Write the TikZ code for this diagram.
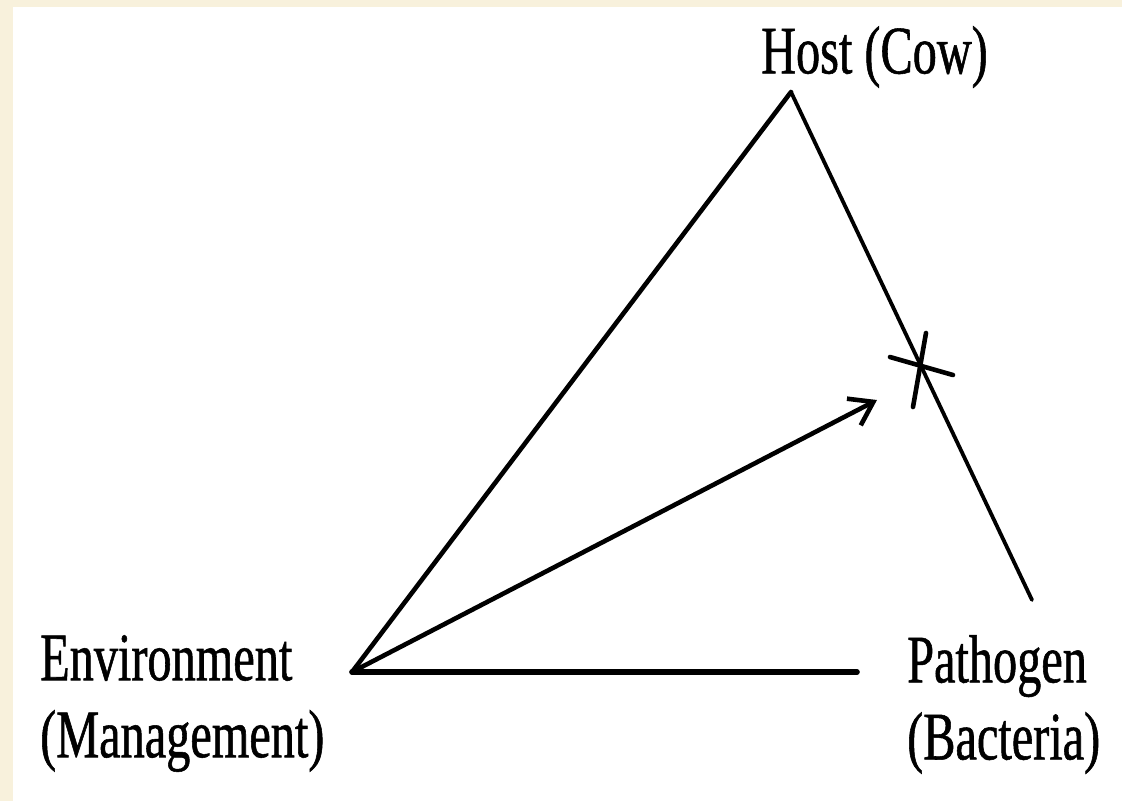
\documentclass[tikz,border=0pt]{standalone}
\usepackage{fontspec}
\setmainfont{Liberation Serif}[FakeStretch=0.71,FakeBold=0.8]
\usetikzlibrary{arrows.meta}
\definecolor{cream}{HTML}{F8F1DC}

\begin{document}
\begin{tikzpicture}[x=1pt,y=-1pt,
        vertexname/.style={anchor=north west,inner sep=0pt,align=left,
            font=\fontsize{68}{77}\selectfont},
        side/.style={line width=4.6pt,line cap=round}]
    \useasboundingbox (0,0) rectangle (1122,801);
    \fill[cream] (0,0) rectangle (1122,801);
    \fill[white] (13,7) rectangle (1122,801);

    \coordinate (host) at (791,92);
    \coordinate (env) at (352,672);
    \coordinate (baseend) at (857,672);
    \coordinate (pathend) at (1032,600);
    \coordinate (target) at (877,400);
    \coordinate (cross) at (920,365);

    \node[vertexname] (hostname) at (761,26) {Host (Cow)};
    \node[vertexname] (envname) at (40,635) {Environment\\(Management)};
    \node[vertexname] (pathname) at (907,635) {Pathogen\\(Bacteria)};

    \draw[side] (env) -- (host);
    \draw[side,line width=3.8pt] (host) -- (pathend);
    \draw[side,line width=5.6pt] (env) -- (baseend);
    \draw[side,-{Straight Barb[length=22pt,width=30pt]}] (env) -- (target);

    % the cut on the host--pathogen side
    \draw[side] ([shift={(-30,-8)}]cross) -- ([shift={(33,10)}]cross);
    \draw[side] ([shift={(6,-32)}]cross) -- ([shift={(-7,42)}]cross);
\end{tikzpicture}
\end{document}
